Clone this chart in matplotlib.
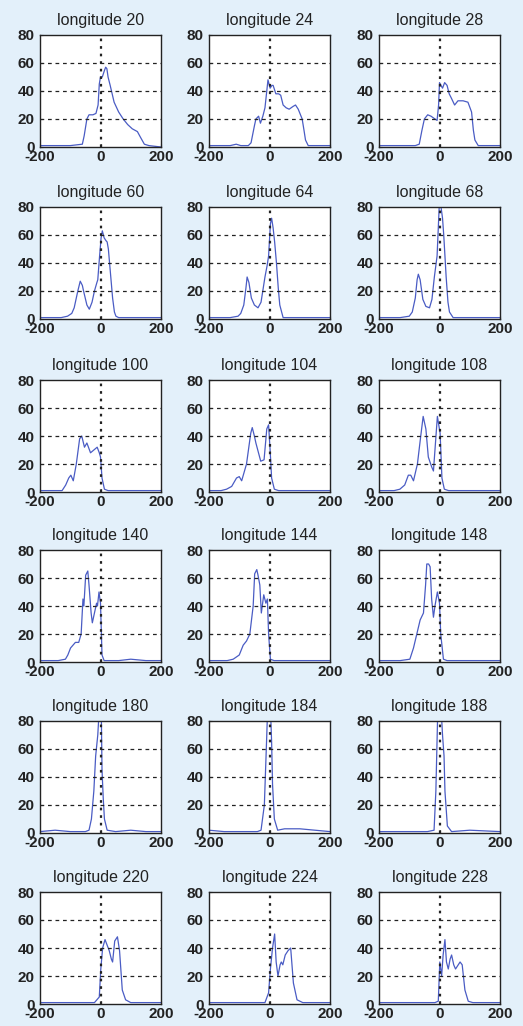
import matplotlib
matplotlib.use('Agg')
import matplotlib.pyplot as plt

# longitudes shown in each panel (row by row)
longitudes = [20, 24, 28, 60, 64, 68, 100, 104, 108,
              140, 144, 148, 180, 184, 188, 220, 224, 228]

# curves (x, value)
x20 = [-200, -150, -100, -60, -54, -45, -38, -25, -15, -8, -4, 0, 6, 12, 17, 21, 25, 32, 45, 60, 75, 90, 105, 122, 132, 145, 160, 200]
y20 = [1, 1, 1, 2, 8, 20, 23, 23, 24, 30, 45, 50, 50, 54, 57, 56, 50, 44, 32, 25, 20, 16, 13, 11, 7, 2, 1, 0]

x24 = [-200, -130, -110, -95, -70, -61, -50, -45, -36, -30, -22, -15, -10, -5, 2, 8, 12, 21, 30, 37, 45, 55, 65, 78, 86, 95, 108, 114, 119, 128, 200]
y24 = [1, 1, 2, 1, 1, 3, 15, 20, 22, 17, 22, 28, 38, 48, 42, 44, 44, 38, 38, 37, 30, 28, 27, 29, 30, 27, 20, 12, 5, 1, 1]

x28 = [-200, -120, -80, -67, -58, -50, -39, -28, -15, -8, -3, 0, 5, 10, 17, 25, 32, 39, 50, 61, 78, 94, 106, 112, 117, 128, 200]
y28 = [1, 1, 1, 2, 12, 20, 23, 22, 20, 19, 30, 46, 44, 42, 46, 44, 38, 35, 30, 33, 33, 32, 25, 12, 5, 1, 1]

x60 = [-200, -130, -109, -95, -87, -75, -67, -60, -56, -45, -37, -28, -20, -12, -9, -3, 2, 6, 12, 18, 22, 26, 32, 40, 46, 51, 60, 200]
y60 = [1, 1, 2, 4, 8, 20, 27, 24, 20, 10, 7, 12, 20, 26, 28, 45, 58, 63, 58, 56, 55, 50, 35, 15, 5, 2, 1, 1]

x64 = [-200, -130, -104, -95, -85, -78, -74, -68, -60, -50, -38, -28, -15, -8, -3, 3, 7, 12, 17, 23, 29, 34, 45, 200]
y64 = [1, 1, 2, 4, 10, 22, 30, 26, 15, 10, 8, 12, 30, 38, 45, 68, 72, 65, 55, 40, 22, 10, 1, 1]

x68 = [-200, -130, -100, -90, -80, -74, -70, -64, -55, -45, -33, -25, -17, -8, -3, 0, 5, 10, 14, 18, 22, 28, 33, 45, 200]
y68 = [1, 1, 2, 5, 15, 28, 32, 28, 14, 9, 8, 14, 30, 45, 70, 85, 80, 72, 60, 45, 30, 12, 5, 1, 1]

x100 = [-200, -150, -127, -115, -105, -98, -90, -80, -69, -62, -53, -45, -33, -22, -11, -4, 0, 5, 13, 25, 200]
y100 = [1, 1, 1, 5, 10, 12, 8, 20, 38, 40, 32, 35, 28, 30, 32, 28, 25, 10, 2, 1, 1]

x104 = [-200, -160, -142, -125, -109, -100, -92, -76, -62, -57, -50, -45, -29, -18, -9, -3, 2, 7, 16, 30, 200]
y104 = [1, 1, 2, 4, 10, 11, 8, 20, 42, 46, 40, 35, 22, 23, 45, 48, 30, 10, 2, 1, 1]

x108 = [-200, -150, -131, -115, -103, -95, -86, -73, -62, -54, -45, -37, -26, -20, -15, -7, 2, 8, 16, 30, 200]
y108 = [1, 1, 2, 5, 12, 12, 8, 20, 40, 54, 45, 25, 18, 15, 30, 54, 42, 10, 2, 1, 1]

x140 = [-200, -140, -116, -108, -99, -83, -72, -64, -58, -55, -49, -42, -38, -31, -27, -20, -13, -10, -5, 0, 5, 12, 60, 100, 150, 200]
y140 = [1, 1, 2, 5, 10, 14, 14, 20, 45, 40, 62, 65, 55, 35, 28, 35, 42, 40, 50, 42, 5, 1, 1, 2, 1, 1]

x144 = [-200, -140, -120, -100, -87, -76, -65, -54, -49, -42, -38, -32, -27, -19, -12, -7, -3, 3, 15, 200]
y144 = [1, 1, 2, 5, 12, 15, 20, 40, 63, 66, 62, 55, 35, 48, 42, 45, 20, 2, 1, 1]

x148 = [-200, -130, -98, -86, -75, -64, -53, -46, -42, -36, -31, -26, -20, -15, -7, 0, 4, 13, 25, 200]
y148 = [1, 1, 2, 10, 20, 30, 35, 55, 70, 70, 68, 45, 32, 40, 50, 42, 20, 2, 1, 1]

x180 = [-200, -150, -100, -50, -38, -30, -22, -16, -9, -5, 0, 3, 5, 9, 13, 22, 50, 100, 150, 200]
y180 = [1, 2, 1, 1, 2, 10, 30, 55, 70, 85, 95, 80, 45, 25, 10, 2, 1, 2, 1, 1]

x184 = [-200, -150, -100, -40, -28, -17, -9, -6, 0, 3, 7, 10, 16, 27, 50, 100, 150, 200]
y184 = [2, 1, 1, 1, 2, 20, 70, 90, 95, 90, 65, 35, 10, 2, 3, 3, 2, 1]

x188 = [-200, -150, -100, -40, -18, -12, -6, 0, 5, 10, 15, 18, 26, 40, 100, 200]
y188 = [1, 1, 1, 1, 2, 30, 85, 95, 90, 70, 55, 30, 5, 1, 2, 1]

x220 = [-200, -100, -20, -4, 1, 7, 15, 22, 29, 36, 40, 47, 56, 63, 72, 83, 100, 200]
y220 = [1, 1, 1, 5, 25, 40, 46, 42, 38, 32, 30, 45, 48, 38, 10, 3, 1, 1]

x224 = [-200, -100, -15, -3, 3, 10, 17, 22, 28, 35, 39, 44, 52, 61, 70, 79, 91, 110, 200]
y224 = [1, 1, 1, 8, 25, 40, 50, 30, 20, 28, 30, 28, 35, 38, 40, 15, 3, 1, 1]

x228 = [-200, -100, -15, -4, 1, 7, 12, 18, 23, 29, 35, 40, 47, 53, 62, 68, 75, 84, 95, 110, 200]
y228 = [1, 1, 1, 2, 30, 20, 35, 46, 30, 25, 32, 35, 28, 25, 28, 30, 28, 10, 2, 1, 1]

series = [(x20, y20), (x24, y24), (x28, y28),
          (x60, y60), (x64, y64), (x68, y68),
          (x100, y100), (x104, y104), (x108, y108),
          (x140, y140), (x144, y144), (x148, y148),
          (x180, y180), (x184, y184), (x188, y188),
          (x220, y220), (x224, y224), (x228, y228)]

xticks = [-200, 0, 200]
yticks = [0, 20, 40, 60, 80]

bg = '#e3f0fa'
W, H = 523, 1026
fig = plt.figure(figsize=(W / 100, H / 100), dpi=100, facecolor=bg)
plt.rcParams['font.family'] = ['Liberation Sans', 'DejaVu Sans']
plt.rcParams['axes.unicode_minus'] = False

col_left = [40, 209, 379]
row_top = [35, 207, 380, 550, 721, 892]
ax_w, ax_h = 121, 112

for k, (lon, (xs, ys)) in enumerate(zip(longitudes, series)):
    r, c = divmod(k, 3)
    ax = fig.add_axes([col_left[c] / W, 1 - (row_top[r] + ax_h) / H, ax_w / W, ax_h / H])
    ax.set_facecolor('white')
    ax.plot(xs, ys, color='#4a5cc4', lw=0.9)
    ax.set_xlim(-200, 200)
    ax.set_ylim(0, 80)
    ax.set_xticks(xticks)
    ax.set_yticks(yticks)
    for yv in [20, 40, 60]:
        ax.axhline(yv, color='#222222', lw=0.9, ls=(0, (3, 3)))
    ax.axvline(0, color='#222222', lw=1.6, ls=(0, (1.2, 2.2)))
    ax.tick_params(direction='in', length=2, labelsize=11, colors='#222222')
    ax.tick_params(axis='x', pad=2)
    ax.tick_params(axis='y', pad=4)
    for lab in ax.get_xticklabels() + ax.get_yticklabels():
        lab.set_fontweight('bold')
    for sp in ax.spines.values():
        sp.set_linewidth(1.0)
        sp.set_color('#222222')
    ax.set_title('longitude %d' % lon, fontsize=11.5, pad=7, color='#222222')

fig.savefig('out.png', dpi=100, facecolor=bg)
